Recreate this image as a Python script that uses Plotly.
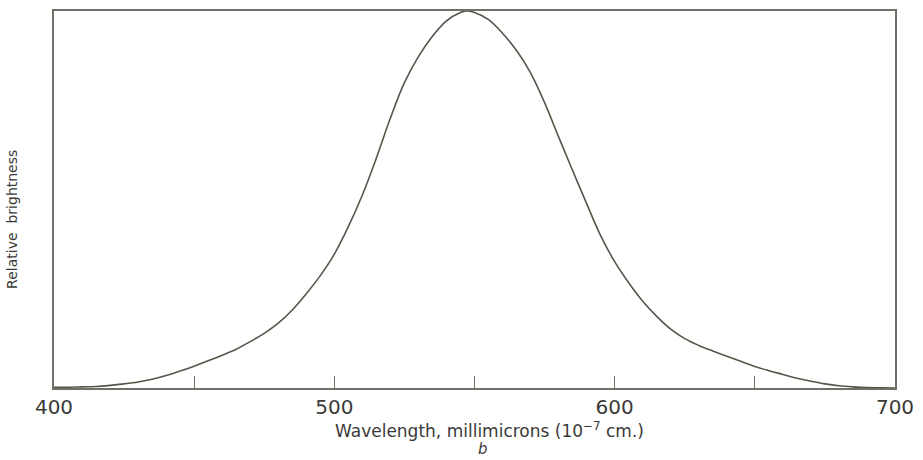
import plotly.graph_objects as go

# Data (every 5 nm, plus the peak)
wavelength = [400, 405, 410, 415, 420, 425, 430, 435, 440, 445, 450, 455, 460, 465, 470,
              475, 480, 485, 490, 495, 500, 505, 510, 515, 520, 525, 530, 535, 540, 545,
              547, 550, 555, 560, 565, 570, 575, 580, 585, 590, 595, 600, 605, 610, 615,
              620, 625, 630, 635, 640, 645, 650, 655, 660, 665, 670, 675, 680, 685, 690,
              695, 700]
brightness = [0.002, 0.002, 0.003, 0.004, 0.007, 0.011, 0.016, 0.023, 0.033, 0.045, 0.058,
              0.072, 0.087, 0.103, 0.123, 0.145, 0.172, 0.207, 0.250, 0.298, 0.355, 0.428,
              0.512, 0.610, 0.716, 0.810, 0.879, 0.933, 0.974, 0.996, 1.0, 0.996, 0.977,
              0.941, 0.895, 0.836, 0.757, 0.666, 0.577, 0.489, 0.404, 0.335, 0.279, 0.230,
              0.190, 0.156, 0.131, 0.113, 0.098, 0.084, 0.071, 0.057, 0.046, 0.036, 0.026,
              0.018, 0.011, 0.006, 0.003, 0.001, 0.0005, 0.0]

tick_vals = [400, 450, 500, 550, 600, 650, 700]
tick_text = ["400", "", "500", "", "600", "", "700"]

line_color = "#55564a"
frame_color = "#707068"
text_color = "#3a3a38"
font_family = "DejaVu Sans"

fig = go.Figure()
fig.add_trace(go.Scatter(
    x=wavelength, y=brightness, mode="lines",
    line=dict(color=line_color, width=1.6, shape="spline", smoothing=1.0),
    hoverinfo="skip", showlegend=False,
))

fig.update_layout(
    width=923, height=460,
    margin=dict(l=54, r=28, t=9, b=72),
    paper_bgcolor="white", plot_bgcolor="white",
    font=dict(family=font_family, color=text_color),
    xaxis=dict(
        range=[400, 700], tickvals=tick_vals, ticktext=tick_text,
        ticks="inside", ticklen=12, tickwidth=1.2, tickcolor=frame_color,
        showline=True, linecolor=frame_color, linewidth=1.5, mirror=True,
        showgrid=False, zeroline=False,
        tickfont=dict(size=20, color=text_color, family=font_family),
    ),
    yaxis=dict(
        range=[0, 1.0], showticklabels=False, ticks="",
        showline=True, linecolor=frame_color, linewidth=1.5, mirror=True,
        showgrid=False, zeroline=False,
    ),
    annotations=[
        dict(text="Wavelength, millimicrons (10<sup>−7</sup> cm.)", xref="paper", yref="paper",
             x=(490 - 54) / 841, y=0, yshift=-42, xanchor="center", yanchor="middle",
             showarrow=False,
             font=dict(size=17, color=text_color, family=font_family)),
        dict(text="<i>b</i>", xref="paper", yref="paper",
             x=(483 - 54) / 841, y=0, yshift=-61, xanchor="center", yanchor="middle",
             showarrow=False, font=dict(size=15, color=text_color, family=font_family)),
        dict(text="Relative  brightness", xref="paper", yref="paper",
             x=0, xshift=-42, y=(388 - 219) / 379, xanchor="center", yanchor="middle",
             textangle=-90, showarrow=False,
             font=dict(size=14, color=text_color, family=font_family)),
    ],
)

fig.write_html("out.html")
